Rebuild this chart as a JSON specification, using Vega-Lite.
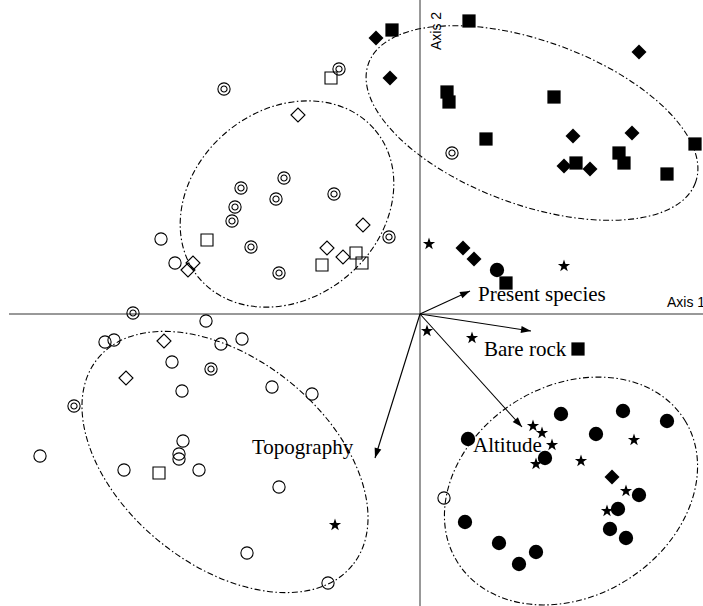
{
  "$schema": "https://vega.github.io/schema/vega-lite/v6.json",
  "width": 703,
  "height": 606,
  "autosize": {"type": "none"},
  "padding": 0,
  "background": "white",
  "config": {"view": {"stroke": null}},
  "resolve": {"scale": {"shape": "independent", "size": "independent", "angle": "independent", "fill": "independent", "strokeWidth": "independent"}},
  "datasets": {
    "points": [
      {"sym": "fd", "ax1": -0.44, "ax2": 2.76},
      {"sym": "fs", "ax1": -0.28, "ax2": 2.84},
      {"sym": "dc", "ax1": -0.81, "ax2": 2.45},
      {"sym": "os", "ax1": -0.89, "ax2": 2.36},
      {"sym": "fd", "ax1": -0.30, "ax2": 2.36},
      {"sym": "dc", "ax1": -1.96, "ax2": 2.25},
      {"sym": "od", "ax1": -1.22, "ax2": 1.99},
      {"sym": "dc", "ax1": -1.36, "ax2": 1.36},
      {"sym": "dc", "ax1": -1.79, "ax2": 1.26},
      {"sym": "dc", "ax1": -1.44, "ax2": 1.15},
      {"sym": "dc", "ax1": -0.86, "ax2": 1.20},
      {"sym": "dc", "ax1": -1.85, "ax2": 1.07},
      {"sym": "dc", "ax1": -1.88, "ax2": 0.93},
      {"sym": "od", "ax1": -0.57, "ax2": 0.89},
      {"sym": "dc", "ax1": -0.31, "ax2": 0.77},
      {"sym": "oc", "ax1": -2.59, "ax2": 0.75},
      {"sym": "os", "ax1": -2.13, "ax2": 0.74},
      {"sym": "dc", "ax1": -1.69, "ax2": 0.67},
      {"sym": "od", "ax1": -0.93, "ax2": 0.66},
      {"sym": "os", "ax1": -0.64, "ax2": 0.61},
      {"sym": "od", "ax1": -0.77, "ax2": 0.57},
      {"sym": "os", "ax1": -0.58, "ax2": 0.51},
      {"sym": "os", "ax1": -0.98, "ax2": 0.49},
      {"sym": "oc", "ax1": -2.45, "ax2": 0.51},
      {"sym": "od", "ax1": -2.27, "ax2": 0.51},
      {"sym": "od", "ax1": -2.32, "ax2": 0.44},
      {"sym": "dc", "ax1": -1.41, "ax2": 0.41},
      {"sym": "fs", "ax1": 0.49, "ax2": 2.93},
      {"sym": "fd", "ax1": 2.19, "ax2": 2.62},
      {"sym": "fs", "ax1": 0.27, "ax2": 2.22},
      {"sym": "fs", "ax1": 0.29, "ax2": 2.12},
      {"sym": "fs", "ax1": 1.34, "ax2": 2.17},
      {"sym": "fs", "ax1": 0.66, "ax2": 1.75},
      {"sym": "fd", "ax1": 1.53, "ax2": 1.78},
      {"sym": "fd", "ax1": 2.12, "ax2": 1.81},
      {"sym": "fs", "ax1": 2.75, "ax2": 1.70},
      {"sym": "dc", "ax1": 0.32, "ax2": 1.61},
      {"sym": "fs", "ax1": 1.99, "ax2": 1.61},
      {"sym": "fs", "ax1": 2.04, "ax2": 1.51},
      {"sym": "fd", "ax1": 1.44, "ax2": 1.48},
      {"sym": "fs", "ax1": 1.56, "ax2": 1.51},
      {"sym": "fd", "ax1": 1.70, "ax2": 1.45},
      {"sym": "fs", "ax1": 2.47, "ax2": 1.40},
      {"sym": "st", "ax1": 0.09, "ax2": 0.70},
      {"sym": "fd", "ax1": 0.43, "ax2": 0.66},
      {"sym": "fd", "ax1": 0.54, "ax2": 0.55},
      {"sym": "fc", "ax1": 0.77, "ax2": 0.44},
      {"sym": "fs", "ax1": 0.86, "ax2": 0.31},
      {"sym": "st", "ax1": 1.44, "ax2": 0.48},
      {"sym": "dc", "ax1": -2.87, "ax2": 0.01},
      {"sym": "oc", "ax1": -2.14, "ax2": -0.07},
      {"sym": "oc", "ax1": -3.15, "ax2": -0.28},
      {"sym": "oc", "ax1": -3.06, "ax2": -0.26},
      {"sym": "od", "ax1": -2.56, "ax2": -0.27},
      {"sym": "oc", "ax1": -1.99, "ax2": -0.30},
      {"sym": "oc", "ax1": -1.78, "ax2": -0.25},
      {"sym": "oc", "ax1": -2.48, "ax2": -0.48},
      {"sym": "dc", "ax1": -2.09, "ax2": -0.55},
      {"sym": "od", "ax1": -2.94, "ax2": -0.64},
      {"sym": "oc", "ax1": -2.38, "ax2": -0.77},
      {"sym": "oc", "ax1": -1.48, "ax2": -0.73},
      {"sym": "oc", "ax1": -1.08, "ax2": -0.80},
      {"sym": "dc", "ax1": -3.46, "ax2": -0.92},
      {"sym": "oc", "ax1": -2.37, "ax2": -1.27},
      {"sym": "oc", "ax1": -2.41, "ax2": -1.40},
      {"sym": "oc", "ax1": -2.41, "ax2": -1.45},
      {"sym": "oc", "ax1": -3.80, "ax2": -1.42},
      {"sym": "oc", "ax1": -2.96, "ax2": -1.56},
      {"sym": "os", "ax1": -2.61, "ax2": -1.59},
      {"sym": "oc", "ax1": -2.21, "ax2": -1.56},
      {"sym": "oc", "ax1": -1.41, "ax2": -1.73},
      {"sym": "st", "ax1": -0.85, "ax2": -2.11},
      {"sym": "oc", "ax1": -1.73, "ax2": -2.39},
      {"sym": "oc", "ax1": -0.92, "ax2": -2.69},
      {"sym": "st", "ax1": 0.07, "ax2": -0.17},
      {"sym": "st", "ax1": 0.52, "ax2": -0.24},
      {"sym": "fs", "ax1": 1.58, "ax2": -0.35},
      {"sym": "fc", "ax1": 1.41, "ax2": -1.00},
      {"sym": "fc", "ax1": 2.03, "ax2": -0.97},
      {"sym": "fc", "ax1": 2.47, "ax2": -1.07},
      {"sym": "st", "ax1": 1.13, "ax2": -1.12},
      {"sym": "st", "ax1": 1.22, "ax2": -1.19},
      {"sym": "fc", "ax1": 1.76, "ax2": -1.20},
      {"sym": "fc", "ax1": 0.48, "ax2": -1.25},
      {"sym": "st", "ax1": 1.32, "ax2": -1.31},
      {"sym": "st", "ax1": 2.14, "ax2": -1.26},
      {"sym": "fc", "ax1": 1.25, "ax2": -1.44},
      {"sym": "st", "ax1": 1.16, "ax2": -1.50},
      {"sym": "st", "ax1": 1.61, "ax2": -1.47},
      {"sym": "fd", "ax1": 1.92, "ax2": -1.63},
      {"sym": "st", "ax1": 2.06, "ax2": -1.77},
      {"sym": "fc", "ax1": 2.19, "ax2": -1.81},
      {"sym": "oc", "ax1": 0.24, "ax2": -1.84},
      {"sym": "fc", "ax1": 1.98, "ax2": -1.95},
      {"sym": "st", "ax1": 1.87, "ax2": -1.97},
      {"sym": "fc", "ax1": 0.45, "ax2": -2.08},
      {"sym": "fc", "ax1": 1.90, "ax2": -2.15},
      {"sym": "fc", "ax1": 2.06, "ax2": -2.24},
      {"sym": "fc", "ax1": 0.79, "ax2": -2.29},
      {"sym": "fc", "ax1": 1.16, "ax2": -2.38},
      {"sym": "fc", "ax1": 0.99, "ax2": -2.50}
    ],
    "ellipses": [
      {"group": "E1", "cx": -1.33, "cy": 1.10},
      {"group": "E2", "cx": 1.12, "cy": 1.91},
      {"group": "E3", "cx": -1.95, "cy": -1.48},
      {"group": "E4", "cx": 1.51, "cy": -1.77}
    ],
    "arrows": [
      {"label": "Present species", "ax1": 0.50, "ax2": 0.23, "lx": 0.58, "ly": 0.13},
      {"label": "Bare rock", "ax1": 1.11, "ax2": -0.17, "lx": 0.64, "ly": -0.42},
      {"label": "Altitude", "ax1": 1.02, "ax2": -1.13, "lx": 0.53, "ly": -1.38},
      {"label": "Topography", "ax1": -0.45, "ax2": -1.44, "lx": -1.68, "ly": -1.40}
    ],
    "axislabels": [
      {"label": "Axis 1", "ax1": 2.47, "ax2": 0.07},
      {"label": "Axis 2", "ax1": 0.17, "ax2": 2.64}
    ]
  },
  "layer": [
    {
      "data": {"name": "axislabels"},
      "transform": [{"filter": "datum.label == 'Axis 1'"}],
      "mark": {"type": "rule", "stroke": "#333", "strokeWidth": 1},
      "encoding": {
        "x": {"datum": -4.11, "type": "quantitative", "scale": {"domain": [-4.2, 2.83], "nice": false, "zero": false}, "axis": null},
        "x2": {"datum": 2.83},
        "y": {"datum": 0, "type": "quantitative", "scale": {"domain": [-2.92, 3.14], "nice": false, "zero": false}, "axis": null}
      }
    },
    {
      "data": {"name": "axislabels"},
      "transform": [{"filter": "datum.label == 'Axis 2'"}],
      "mark": {"type": "rule", "stroke": "#333", "strokeWidth": 1},
      "encoding": {
        "x": {"datum": 0, "type": "quantitative", "scale": {"domain": [-4.2, 2.83], "nice": false, "zero": false}, "axis": null},
        "y": {"datum": -2.92, "type": "quantitative", "scale": {"domain": [-2.92, 3.14], "nice": false, "zero": false}, "axis": null},
        "y2": {"datum": 3.14}
      }
    },
    {
      "data": {"name": "ellipses"},
      "mark": {"type": "point", "filled": false, "stroke": "black", "strokeWidth": 1.1, "strokeDash": [6, 2.5, 1.5, 2.5], "opacity": 1},
      "encoding": {
        "x": {"field": "cx", "type": "quantitative", "scale": {"domain": [-4.2, 2.83], "nice": false, "zero": false}, "axis": null},
        "y": {"field": "cy", "type": "quantitative", "scale": {"domain": [-2.92, 3.14], "nice": false, "zero": false}, "axis": null},
        "shape": {"field": "group", "type": "nominal", "legend": null, "scale": {"domain": ["E1", "E2", "E3", "E4"], "range": [
          "M 1 0 C 1 0.451 0.552 0.817 0 0.817 C -0.552 0.817 -1 0.451 -1 0 C -1 -0.451 -0.552 -0.817 0 -0.817 C 0.552 -0.817 1 -0.451 1 0 Z",
          "M 1 0 C 1 0.26 0.552 0.471 0 0.471 C -0.552 0.471 -1 0.26 -1 0 C -1 -0.26 -0.552 -0.471 0 -0.471 C 0.552 -0.471 1 -0.26 1 0 Z",
          "M 1 0 C 1 0.347 0.552 0.628 0 0.628 C -0.552 0.628 -1 0.347 -1 0 C -1 -0.347 -0.552 -0.628 0 -0.628 C 0.552 -0.628 1 -0.347 1 0 Z",
          "M 1 0 C 1 0.433 0.552 0.784 0 0.784 C -0.552 0.784 -1 0.433 -1 0 C -1 -0.433 -0.552 -0.784 0 -0.784 C 0.552 -0.784 1 -0.433 1 0 Z"
        ]}},
        "angle": {"field": "group", "type": "nominal", "legend": null, "scale": {"type": "ordinal", "domain": ["E1", "E2", "E3", "E4"], "range": [-40, 20, 39, -32]}},
        "size": {"field": "group", "type": "nominal", "legend": null, "scale": {"type": "ordinal", "domain": ["E1", "E2", "E3", "E4"], "range": [52900, 121104, 107584, 71824]}}
      }
    },
    {
      "data": {"name": "arrows"},
      "mark": {"type": "rule", "stroke": "black", "strokeWidth": 1.1},
      "encoding": {
        "x": {"field": "ax1", "type": "quantitative", "scale": {"domain": [-4.2, 2.83], "nice": false, "zero": false}, "axis": null},
        "y": {"field": "ax2", "type": "quantitative", "scale": {"domain": [-2.92, 3.14], "nice": false, "zero": false}, "axis": null},
        "x2": {"datum": 0},
        "y2": {"datum": 0}
      }
    },
    {
      "data": {"name": "arrows"},
      "mark": {"type": "point", "filled": true, "fill": "black", "strokeWidth": 0, "opacity": 1, "shape": "M 0 0 L -2 -0.7 L -2 0.7 Z", "size": 100},
      "encoding": {
        "x": {"field": "ax1", "type": "quantitative", "scale": {"domain": [-4.2, 2.83], "nice": false, "zero": false}, "axis": null},
        "y": {"field": "ax2", "type": "quantitative", "scale": {"domain": [-2.92, 3.14], "nice": false, "zero": false}, "axis": null},
        "angle": {"field": "label", "type": "nominal", "legend": null, "scale": {"type": "ordinal", "domain": ["Present species", "Bare rock", "Altitude", "Topography"], "range": [-24.7, 8.7, 47.9, 107.4]}}
      }
    },
    {
      "data": {"name": "arrows"},
      "mark": {"type": "text", "font": "Liberation Serif", "fontSize": 21, "align": "left", "baseline": "alphabetic", "fill": "black"},
      "encoding": {
        "x": {"field": "lx", "type": "quantitative", "scale": {"domain": [-4.2, 2.83], "nice": false, "zero": false}, "axis": null},
        "y": {"field": "ly", "type": "quantitative", "scale": {"domain": [-2.92, 3.14], "nice": false, "zero": false}, "axis": null},
        "text": {"field": "label"}
      }
    },
    {
      "data": {"name": "axislabels"},
      "transform": [{"filter": "datum.label == 'Axis 1'"}],
      "mark": {"type": "text", "font": "Liberation Sans", "fontSize": 14, "align": "left", "baseline": "alphabetic", "fill": "black"},
      "encoding": {
        "x": {"field": "ax1", "type": "quantitative", "scale": {"domain": [-4.2, 2.83], "nice": false, "zero": false}, "axis": null},
        "y": {"field": "ax2", "type": "quantitative", "scale": {"domain": [-2.92, 3.14], "nice": false, "zero": false}, "axis": null},
        "text": {"field": "label"}
      }
    },
    {
      "data": {"name": "axislabels"},
      "transform": [{"filter": "datum.label == 'Axis 2'"}],
      "mark": {"type": "text", "font": "Liberation Sans", "fontSize": 14, "align": "left", "baseline": "middle", "angle": 270, "fill": "black"},
      "encoding": {
        "x": {"field": "ax1", "type": "quantitative", "scale": {"domain": [-4.2, 2.83], "nice": false, "zero": false}, "axis": null},
        "y": {"field": "ax2", "type": "quantitative", "scale": {"domain": [-2.92, 3.14], "nice": false, "zero": false}, "axis": null},
        "text": {"field": "label"}
      }
    },
    {
      "data": {"name": "points"},
      "mark": {"type": "point", "stroke": "black", "opacity": 1},
      "encoding": {
        "x": {"field": "ax1", "type": "quantitative", "scale": {"domain": [-4.2, 2.83], "nice": false, "zero": false}, "axis": null},
        "y": {"field": "ax2", "type": "quantitative", "scale": {"domain": [-2.92, 3.14], "nice": false, "zero": false}, "axis": null},
        "shape": {"field": "sym", "type": "nominal", "legend": null, "scale": {"domain": ["oc", "dc", "os", "od", "fc", "fs", "fd", "st"], "range": [
          "circle",
          "M 1 0 C 1 0.552 0.552 1 0 1 C -0.552 1 -1 0.552 -1 0 C -1 -0.552 -0.552 -1 0 -1 C 0.552 -1 1 -0.552 1 0 Z M 0.5 0 C 0.5 0.276 0.276 0.5 0 0.5 C -0.276 0.5 -0.5 0.276 -0.5 0 C -0.5 -0.276 -0.276 -0.5 0 -0.5 C 0.276 -0.5 0.5 -0.276 0.5 0 Z",
          "square",
          "diamond",
          "circle",
          "square",
          "diamond",
          "M 0 -1 L 0.235 -0.324 L 0.951 -0.309 L 0.38 0.124 L 0.588 0.809 L 0 0.4 L -0.588 0.809 L -0.38 0.124 L -0.951 -0.309 L -0.235 -0.324 Z"
        ]}},
        "fill": {"field": "sym", "type": "nominal", "legend": null, "scale": {"domain": ["oc", "dc", "os", "od", "fc", "fs", "fd", "st"], "range": ["transparent", "transparent", "transparent", "transparent", "black", "black", "black", "black"]}},
        "size": {"field": "sym", "type": "nominal", "legend": null, "scale": {"type": "ordinal", "domain": ["oc", "dc", "os", "od", "fc", "fs", "fd", "st"], "range": [150, 150, 144, 196, 205, 175, 225, 165]}},
        "strokeWidth": {"field": "sym", "type": "nominal", "legend": null, "scale": {"type": "ordinal", "domain": ["oc", "dc", "os", "od", "fc", "fs", "fd", "st"], "range": [1.1, 1.1, 1.1, 1.1, 0, 0, 0, 0]}}
      }
    }
  ]
}
